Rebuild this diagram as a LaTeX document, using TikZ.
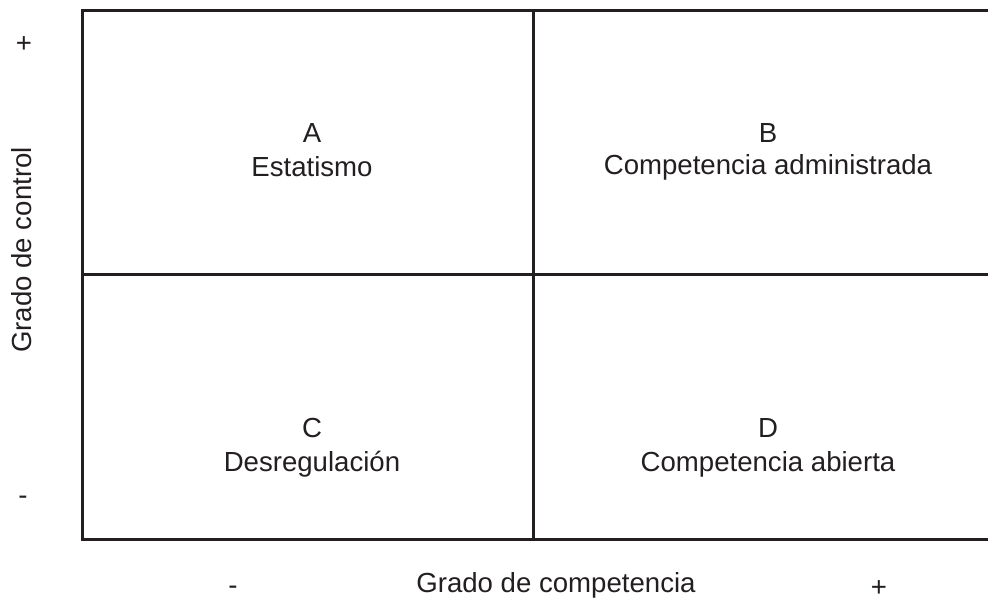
\documentclass[tikz,border=0pt]{standalone}
\usepackage{fontspec}
\setmainfont{Liberation Sans}
\definecolor{ink}{HTML}{231F20}

\begin{document}
\begin{tikzpicture}[x=0.5pt, y=0.5pt, every node/.style={text=ink, font=\fontsize{13.8}{16}\selectfont}]
        \useasboundingbox (0, 0) rectangle (988, 598);

        % matrix frame (open on the right)
        \draw[ink, line width=1.5pt] (988, 587) -- (82, 587) -- (82, 58) -- (988, 58);
        \draw[ink, line width=1.5pt] (533, 587) -- (533, 58);
        \draw[ink, line width=1.5pt] (82, 323) -- (988, 323);

        % quadrants
        \node (lblA) at (312, 465) {A};
        \node (txtA) at (312, 431) {Estatismo};
        \node (lblB) at (768, 465) {B};
        \node (txtB) at (768, 431) {Competencia administrada};
        \node (lblC) at (312, 170) {C};
        \node (txtC) at (312, 134) {Desregulación};
        \node (lblD) at (768, 170) {D};
        \node (txtD) at (768, 134) {Competencia abierta};

        % axes
        \node (yplus) at (24, 553) {+};
        \node (yminus) at (23, 98) {-};
        \node[rotate=90] (ytitle) at (22, 348) {Grado de control};
        \node[inner sep=0pt] (xminus) at (233, 8) {-};
        \node[anchor=base, inner sep=0pt] (xtitle) at (556, 5) {Grado de competencia};
        \node[anchor=base, inner sep=0pt] (xplus) at (879, 1) {+};
    \end{tikzpicture}
\end{document}
